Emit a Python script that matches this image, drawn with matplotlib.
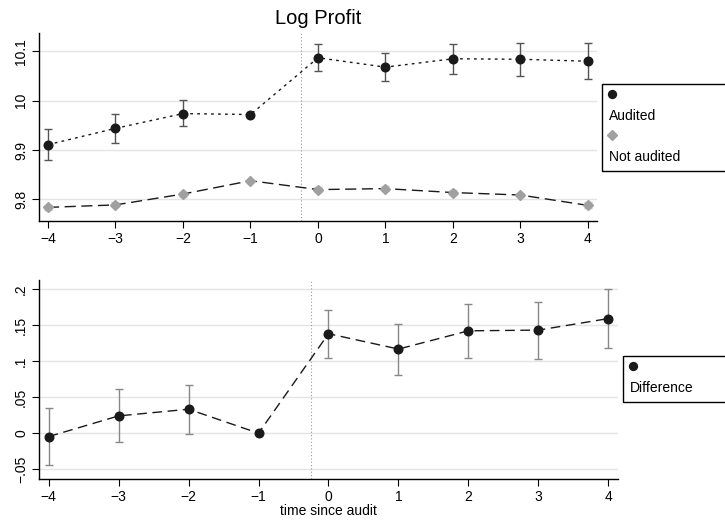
import matplotlib
matplotlib.use("Agg")
import matplotlib.pyplot as plt
from matplotlib.lines import Line2D
from matplotlib.patches import Rectangle

plt.rcParams['font.family'] = ['Liberation Sans', 'DejaVu Sans']

t = [-4, -3, -2, -1, 0, 1, 2, 3, 4]

aud = [9.911, 9.944, 9.974, 9.972, 10.087, 10.068, 10.085, 10.084, 10.080]
aud_lo = [9.880, 9.915, 9.948, 9.972, 10.061, 10.039, 10.055, 10.051, 10.044]
aud_hi = [9.943, 9.974, 10.001, 9.972, 10.114, 10.096, 10.115, 10.117, 10.116]

nat = [9.784, 9.789, 9.811, 9.838, 9.820, 9.822, 9.814, 9.809, 9.788]
nat_lo = [9.779, 9.784, 9.806, 9.836, 9.815, 9.817, 9.809, 9.804, 9.782]
nat_hi = [9.789, 9.794, 9.816, 9.840, 9.825, 9.827, 9.819, 9.814, 9.794]

diff = [-0.0047, 0.024, 0.0333, 0.0, 0.138, 0.1167, 0.142, 0.143, 0.159]
diff_lo = [-0.0436, -0.0125, -0.0006, 0.0, 0.104, 0.081, 0.105, 0.103, 0.1175]
diff_hi = [0.0347, 0.061, 0.067, 0.0, 0.171, 0.152, 0.179, 0.182, 0.200]

top_yticks = [9.8, 9.9, 10.0, 10.1]
top_ylabels = ["9.8", "9.9", "10", "10.1"]
bot_yticks = [-0.05, 0, 0.05, 0.1, 0.15, 0.2]
bot_ylabels = ["-.05", "0", ".05", ".1", ".15", ".2"]
xticks = t
xlabels = ["\u22124", "\u22123", "\u22122", "\u22121", "0", "1", "2", "3", "4"]

title = "Log Profit"
xlabel = "time since audit"
event_x = -0.25

fig = plt.figure(figsize=(7.25, 5.21), dpi=100)
ax1 = fig.add_axes([0.0538, 0.5764, 0.8234 - 0.0538, 0.936 - 0.5764])
ax2 = fig.add_axes([0.0542, 0.0806, 0.852 - 0.0542, 0.4626 - 0.0806])

def err(lo, hi, v):
    return [[a - b for a, b in zip(v, lo)], [b - a for a, b in zip(v, hi)]]

def style(ax, yticks, ylabels, ylim):
    ax.set_xlim(-4.133, 4.133)
    ax.set_ylim(*ylim)
    ax.set_xticks(xticks)
    ax.set_xticklabels(xlabels, fontsize=10)
    ax.set_yticks(yticks)
    ax.set_yticklabels([l.replace("-", "\u2212") for l in ylabels], fontsize=10,
                       rotation=90, va='center')
    for s in ['top', 'right']:
        ax.spines[s].set_visible(False)
    for s in ['left', 'bottom']:
        ax.spines[s].set_linewidth(1.0)
    ax.tick_params(direction='out', length=5, width=0.8, pad=3)
    ax.grid(axis='y', color='#e4e4e4', linewidth=1.0)
    ax.set_axisbelow(True)
    ax.axvline(event_x, color='#999999', linestyle=(0, (1, 2)), linewidth=0.8, zorder=1)

MS = 6.2
DS = 5.2

# top panel
ax1.errorbar(t, aud, yerr=err(aud_lo, aud_hi, aud), fmt='none', ecolor='#555555',
             elinewidth=1.0, capsize=3, capthick=1.0, zorder=2)
ax1.plot(t, aud, color='#1a1a1a', linestyle=(0, (2, 3)), linewidth=1.0,
         marker='o', markersize=MS, markerfacecolor='#1a1a1a', markeredgecolor='#1a1a1a', zorder=3)
ax1.errorbar(t, nat, yerr=err(nat_lo, nat_hi, nat), fmt='none', ecolor='#c8c8c8',
             elinewidth=1.0, capsize=3, capthick=1.0, zorder=2)
ax1.plot(t, nat, color='#1a1a1a', linestyle=(0, (8, 4)), linewidth=1.0, zorder=3)
ax1.plot(t, nat, linestyle='none', marker='D', markersize=DS,
         markerfacecolor='#a0a0a0', markeredgecolor='#a0a0a0', zorder=4)
style(ax1, top_yticks, top_ylabels, (9.757, 10.1365))
ax1.set_title(title, fontsize=14.5, pad=7)

# bottom panel
ax2.errorbar(t, diff, yerr=err(diff_lo, diff_hi, diff), fmt='none', ecolor='#888888',
             elinewidth=1.0, capsize=3, capthick=1.0, zorder=2)
ax2.plot(t, diff, color='#1a1a1a', linestyle=(0, (7, 4)), linewidth=1.0,
         marker='o', markersize=MS, markerfacecolor='#1a1a1a', markeredgecolor='#1a1a1a', zorder=3)
style(ax2, bot_yticks, bot_ylabels, (-0.0635, 0.2125))
ax2.set_xlabel(xlabel, fontsize=10, labelpad=0)

W, H = 725, 521
def fx(px):
    return px / W
def fy(py):
    return 1 - py / H

# top legend box
fig.add_artist(Rectangle((fx(602), fy(170.7)), fx(760) - fx(602), fy(84) - fy(170.7),
                         transform=fig.transFigure, fill=False, edgecolor='black',
                         linewidth=1.0, clip_on=False))
fig.add_artist(Line2D([fx(612.3)], [fy(93.7)], transform=fig.transFigure, marker='o',
                      markersize=MS - 0.5, color='#1a1a1a', linestyle='none'))
fig.text(fx(609), fy(116), "Audited", fontsize=10, va='center', ha='left')
fig.add_artist(Line2D([fx(612.3)], [fy(135)], transform=fig.transFigure, marker='D',
                      markersize=DS - 0.5, color='#a0a0a0', linestyle='none'))
fig.text(fx(609), fy(157.3), "Not audited", fontsize=10, va='center', ha='left')

# bottom legend box
fig.add_artist(Rectangle((fx(623.3), fy(402)), fx(760) - fx(623.3), fy(356) - fy(402),
                         transform=fig.transFigure, fill=False, edgecolor='black',
                         linewidth=1.0, clip_on=False))
fig.add_artist(Line2D([fx(632.7)], [fy(366)], transform=fig.transFigure, marker='o',
                      markersize=MS - 0.5, color='#1a1a1a', linestyle='none'))
fig.text(fx(630), fy(388.3), "Difference", fontsize=10, va='center', ha='left')

fig.savefig("out.png", dpi=100)
